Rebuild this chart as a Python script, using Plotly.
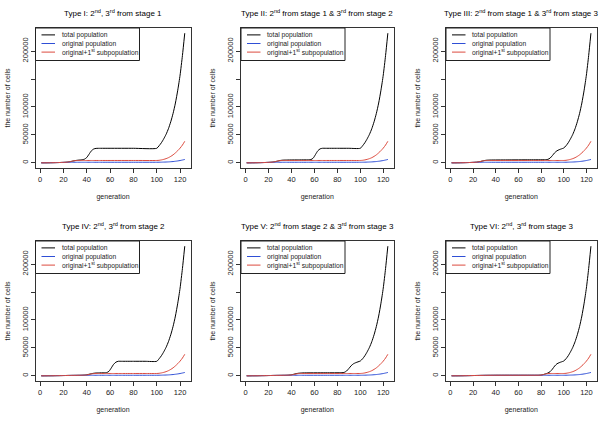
import plotly.graph_objects as go

W, H = 610, 422

# ---------------- data ----------------
TITLES = [
    "Type I: 2<sup>nd</sup>, 3<sup>rd</sup> from stage 1",
    "Type II: 2<sup>nd</sup> from stage 1 &amp; 3<sup>rd</sup> from stage 2",
    "Type III: 2<sup>nd</sup> from stage 1 &amp; 3<sup>rd</sup> from stage 3",
    "Type IV: 2<sup>nd</sup>, 3<sup>rd</sup> from stage 2",
    "Type V: 2<sup>nd</sup> from stage 2 &amp; 3<sup>rd</sup> from stage 3",
    "Type VI: 2<sup>nd</sup>, 3<sup>rd</sup> from stage 3",
]
SERIES_NAMES = ["total population", "original population", "original+1<sup>st</sup> subpopulation"]
X_TITLE = "generation"
Y_TITLE = "the number of cells"

# common growth phase after generation 100
TAIL_GEN = [102, 104, 106, 108, 110, 112, 114, 116, 118, 120, 122, 124]
TAIL_TOTAL = [30500, 36000, 43000, 51000, 61000, 73500, 88500, 107000, 130000, 157000, 192000, 232000]
TAIL_ORIG = [1050, 1150, 1300, 1450, 1650, 1950, 2300, 2800, 3400, 4100, 5000, 6000]
TAIL_SUB1 = [4500, 5200, 6200, 7500, 9200, 11500, 14300, 17800, 21800, 26300, 31800, 38500]

# Type I
GEN_I = [1, 5, 10, 15, 20, 23, 26, 28, 30, 32, 35, 38, 40, 42, 44, 46, 48, 52, 60, 80, 100]
TOTAL_I = [10, 60, 200, 450, 800, 1200, 2100, 3100, 4000, 4600, 5200, 6500, 9500, 15500, 21500, 24800, 25800, 26000, 26000, 26000, 26000]
ORIG_I = [10, 60, 200, 450, 750, 900, 950, 1000, 1000, 1000, 1000, 1000, 1000, 1000, 1000, 1000, 1000, 1000, 1000, 1000, 1000]
SUB1_I = [10, 60, 200, 450, 800, 1100, 2200, 3200, 3900, 4200, 4200, 4200, 4200, 4200, 4200, 4200, 4200, 4200, 4200, 4200, 4200]

# Type II
GEN_II = [1, 5, 10, 15, 20, 23, 26, 28, 30, 32, 35, 45, 55, 57, 59, 61, 63, 65, 67, 70, 80, 90, 100]
TOTAL_II = [10, 60, 200, 450, 800, 1200, 2100, 3100, 4100, 4700, 5000, 5200, 5400, 5800, 8500, 15000, 21500, 25000, 26000, 26000, 26000, 26000, 26000]
ORIG_II = [10, 60, 200, 450, 750, 900, 950, 1000, 1000, 1000, 1000, 1000, 1000, 1000, 1000, 1000, 1000, 1000, 1000, 1000, 1000, 1000, 1000]
SUB1_II = [10, 60, 200, 450, 800, 1100, 2200, 3200, 3900, 4200, 4200, 4200, 4200, 4200, 4200, 4200, 4200, 4200, 4200, 4200, 4200, 4200, 4200]

# Type III
GEN_III = [1, 5, 10, 15, 20, 23, 26, 28, 30, 32, 35, 50, 70, 84, 86, 88, 90, 92, 94, 96, 98, 100]
TOTAL_III = [10, 60, 200, 450, 800, 1200, 2100, 3100, 4100, 4700, 5000, 5200, 5400, 5600, 6200, 8500, 13000, 18000, 21500, 23500, 25000, 26500]
ORIG_III = [10, 60, 200, 450, 750, 900, 950, 1000, 1000, 1000, 1000, 1000, 1000, 1000, 1000, 1000, 1000, 1000, 1000, 1000, 1000, 1000]
SUB1_III = [10, 60, 200, 450, 800, 1100, 2200, 3200, 3900, 4200, 4200, 4200, 4200, 4200, 4200, 4200, 4200, 4200, 4200, 4200, 4200, 4200]

# Type IV
GEN_IV = [1, 5, 10, 15, 20, 25, 30, 35, 38, 40, 42, 44, 46, 48, 50, 55, 57, 59, 61, 63, 65, 67, 70, 80, 90, 100]
TOTAL_IV = [10, 50, 150, 300, 500, 700, 850, 1000, 1300, 1800, 2800, 3800, 4600, 5000, 5200, 5400, 5700, 8000, 14000, 20500, 24500, 26000, 26000, 26000, 26000, 26000]
ORIG_IV = [10, 50, 150, 300, 500, 700, 850, 950, 1000, 1000, 1000, 1000, 1000, 1000, 1000, 1000, 1000, 1000, 1000, 1000, 1000, 1000, 1000, 1000, 1000, 1000]
SUB1_IV = [10, 50, 150, 300, 500, 700, 850, 1000, 1200, 1500, 2400, 3400, 4000, 4200, 4200, 4200, 4200, 4200, 4200, 4200, 4200, 4200, 4200, 4200, 4200, 4200]

# Type V
GEN_V = [1, 5, 10, 15, 20, 25, 30, 35, 38, 40, 42, 44, 46, 48, 50, 70, 84, 86, 88, 90, 92, 94, 96, 98, 100]
TOTAL_V = [10, 50, 150, 300, 500, 700, 850, 1000, 1300, 1800, 2800, 3800, 4600, 5000, 5200, 5400, 5600, 6200, 8500, 13000, 18000, 21500, 23500, 25000, 26500]
ORIG_V = [10, 50, 150, 300, 500, 700, 850, 950, 1000, 1000, 1000, 1000, 1000, 1000, 1000, 1000, 1000, 1000, 1000, 1000, 1000, 1000, 1000, 1000, 1000]
SUB1_V = [10, 50, 150, 300, 500, 700, 850, 1000, 1200, 1500, 2400, 3400, 4000, 4200, 4200, 4200, 4200, 4200, 4200, 4200, 4200, 4200, 4200, 4200, 4200]

# Type VI
GEN_VI = [1, 10, 20, 30, 40, 50, 60, 70, 78, 80, 82, 84, 86, 88, 90, 92, 94, 96, 98, 100]
TOTAL_VI = [10, 150, 500, 850, 1000, 1000, 1000, 1000, 1050, 1300, 2300, 3600, 5000, 7500, 12000, 17500, 21500, 23500, 25000, 26500]
ORIG_VI = [10, 150, 500, 850, 950, 1000, 1000, 1000, 1000, 1000, 1000, 1000, 1000, 1000, 1000, 1000, 1000, 1000, 1000, 1000]
SUB1_VI = [10, 150, 500, 850, 1000, 1000, 1000, 1000, 1050, 1300, 2200, 3300, 4000, 4200, 4200, 4200, 4200, 4200, 4200, 4200]

PANELS = [
    (GEN_I, TOTAL_I, ORIG_I, SUB1_I),
    (GEN_II, TOTAL_II, ORIG_II, SUB1_II),
    (GEN_III, TOTAL_III, ORIG_III, SUB1_III),
    (GEN_IV, TOTAL_IV, ORIG_IV, SUB1_IV),
    (GEN_V, TOTAL_V, ORIG_V, SUB1_V),
    (GEN_VI, TOTAL_VI, ORIG_VI, SUB1_VI),
]

X_TICKS = [0, 20, 40, 60, 80, 100, 120]
Y_TICKS = [0, 50000, 100000, 150000, 200000]
Y_TICKTEXT = ["0", "50000", "100000", "", "200000"]

# ---------------- styling / layout ----------------
COLORS = ["#000000", "#2f4fd6", "#dc4b3e"]
FONT = "Liberation Sans, Arial, Helvetica, sans-serif"
TXT = "#1a1a1a"

# plot boxes in pixels: left, right, top, bottom
BOXES = [
    (35.5, 190.5, 28, 168), (241, 393.5, 28, 168), (446, 596.5, 28, 168),
    (35.5, 190.5, 241, 381), (241, 393.5, 241, 381), (446, 596.5, 241, 381),
]


def px(x):
    return x / W


def py(y):
    return 1 - y / H


fig = go.Figure()
layout = dict(
    width=W, height=H, margin=dict(l=0, r=0, t=0, b=0),
    paper_bgcolor="white", plot_bgcolor="white", showlegend=False,
    font=dict(family=FONT, color=TXT),
)
annotations = []
shapes = []

all_x = [v for p in PANELS for v in p[0]] + TAIL_GEN
all_y = [v for p in PANELS for s in p[1:] for v in s] + TAIL_TOTAL
xmin, xmax = min(all_x), max(all_x)
ymin, ymax = min(all_y), max(all_y)
xpad = 0.04 * (xmax - xmin)
ypad = 0.04 * (ymax - ymin)

for i, (gen, tot, orig, sub1) in enumerate(PANELS):
    k = "" if i == 0 else str(i + 1)
    L, R, T, B = BOXES[i]
    xs = list(gen) + TAIL_GEN
    series = [list(tot) + TAIL_TOTAL, list(orig) + TAIL_ORIG, list(sub1) + TAIL_SUB1]
    for j, ys in enumerate(series):
        fig.add_trace(go.Scatter(
            x=xs, y=ys, mode="lines", name=SERIES_NAMES[j],
            line=dict(color=COLORS[j], width=1, shape="spline", smoothing=0.6),
            xaxis="x" + k, yaxis="y" + k, hoverinfo="skip",
        ))
    layout["xaxis" + k] = dict(
        domain=[px(L), px(R)], anchor="y" + k, range=[xmin - xpad, xmax + xpad],
        tickvals=X_TICKS, ticks="outside", ticklen=4, tickwidth=1, tickcolor="#333",
        showline=True, linecolor="#333", linewidth=1, mirror=True,
        showgrid=False, zeroline=False, tickfont=dict(size=7.5, color=TXT, family=FONT),
        title=dict(text=X_TITLE, standoff=11, font=dict(size=7, color=TXT, family=FONT)),
        automargin=False,
    )
    layout["yaxis" + k] = dict(
        domain=[py(B), py(T)], anchor="x" + k, range=[ymin - ypad, ymax + ypad],
        tickvals=Y_TICKS, ticktext=Y_TICKTEXT, tickangle=-90,
        ticks="outside", ticklen=4, tickwidth=1, tickcolor="#333",
        showline=True, linecolor="#333", linewidth=1, mirror=True,
        showgrid=False, zeroline=False, tickfont=dict(size=7.5, color=TXT, family=FONT),
        title=dict(text=Y_TITLE, standoff=9, font=dict(size=7, color=TXT, family=FONT)),
        automargin=False,
    )
    cx = (L + R) / 2
    annotations.append(dict(
        text=TITLES[i], x=px(cx), y=py(T - 15.5), xref="paper", yref="paper",
        showarrow=False, xanchor="center", yanchor="middle",
        font=dict(size=8, color="#000", family=FONT),
    ))
    # legend box (top-left of the plot box)
    lw, lh = 104, 32.5
    shapes.append(dict(
        type="rect", xref="paper", yref="paper",
        x0=px(L), x1=px(L + lw), y0=py(T), y1=py(T + lh),
        line=dict(color="#222", width=1), fillcolor="white", layer="above",
    ))
    for j in range(3):
        yy = T + 6.9 + 8.6 * j
        shapes.append(dict(
            type="line", xref="paper", yref="paper",
            x0=px(L + 6), x1=px(L + 19.5), y0=py(yy), y1=py(yy),
            line=dict(color=COLORS[j], width=1), layer="above",
        ))
        annotations.append(dict(
            text=SERIES_NAMES[j], x=px(L + 24), y=py(yy), xref="paper", yref="paper",
            showarrow=False, xanchor="left", yanchor="middle",
            font=dict(size=6.7, color=TXT, family=FONT),
        ))

layout["annotations"] = annotations
layout["shapes"] = shapes
fig.update_layout(**layout)
fig.write_html(
    "out.html",
    config={"displayModeBar": False},
    post_script="document.body.style.margin='0';document.body.style.padding='0';",
)
